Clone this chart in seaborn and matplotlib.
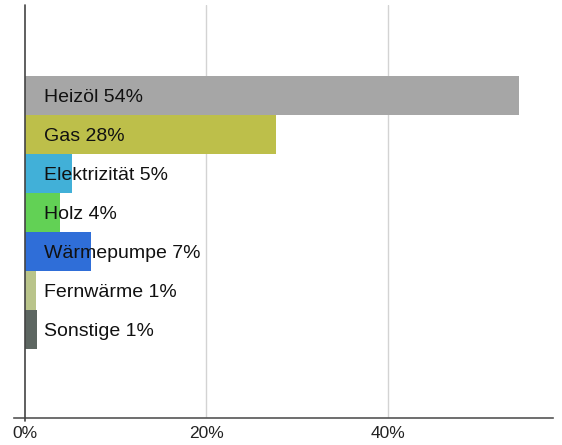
import matplotlib
matplotlib.use('Agg')
import matplotlib.pyplot as plt
from matplotlib.ticker import PercentFormatter
import pandas as pd
import seaborn as sns

categories = ['Heizöl', 'Gas', 'Elektrizität', 'Holz', 'Wärmepumpe', 'Fernwärme', 'Sonstige']
shares = [54.5, 27.7, 5.2, 3.9, 7.3, 1.2, 1.3]
labels = ['54%', '28%', '5%', '4%', '7%', '1%', '1%']
colors = ['#a6a6a6', '#bdbf4a', '#41b0d8', '#62d155', '#2f6ed8', '#b9c48a', '#5d6661']
x_ticks = [0, 20, 40]

df = pd.DataFrame({'Energieträger': categories, 'Anteil': shares})

sns.set_style('white')
plt.rcParams['font.family'] = ['Liberation Sans', 'DejaVu Sans']

fig = plt.figure(figsize=(5.62, 4.45), dpi=100)
ax = fig.add_axes([14 / 562, 1 - 418 / 445, (553 - 14) / 562, 413 / 445])

sns.barplot(data=df, y='Energieträger', x='Anteil', hue='Energieträger',
            palette=colors, orient='h', width=1.0, legend=False, ax=ax,
            saturation=1, linewidth=0)

for i, (cat, lab) in enumerate(zip(categories, labels)):
    ax.text(2.1, i, f'{cat} {lab}', va='center_baseline', ha='left', fontsize=14, color='#111111')

ax.set_xlim(-1.2, 58.2)
ax.set_ylim(8.26, -2.33)
ax.set_xticks(x_ticks)
ax.xaxis.set_major_formatter(PercentFormatter(decimals=0))
ax.tick_params(axis='x', length=0, labelsize=12.5, pad=6, colors='#222222')
ax.set_yticks([])
ax.set_xlabel('')
ax.set_ylabel('')
for x in x_ticks[1:]:
    ax.axvline(x, color='#d3d3d3', lw=1, zorder=0)
ax.axvline(0, ymin=-0.008, ymax=1, color='#444444', lw=1.2, clip_on=False, zorder=3)
for s in ['top', 'right', 'left']:
    ax.spines[s].set_visible(False)
ax.spines['bottom'].set_color('#555555')
ax.spines['bottom'].set_linewidth(1.2)

fig.savefig('out.png', dpi=100)
